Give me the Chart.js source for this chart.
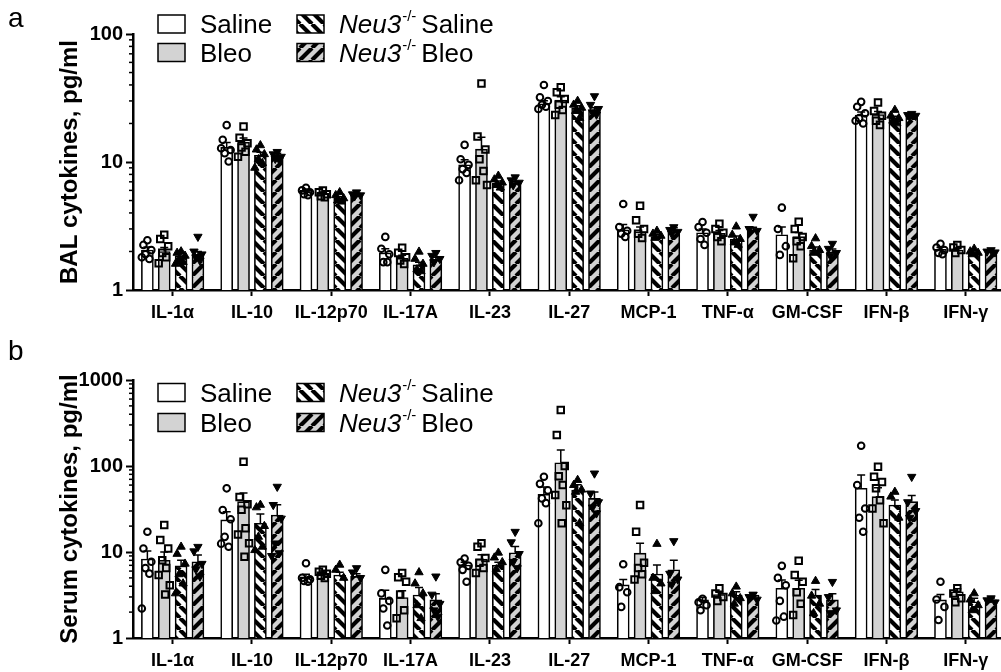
<!DOCTYPE html>
<html>
<head>
<meta charset="utf-8">
<script src="https://cdn.jsdelivr.net/npm/chart.js@4.4.1/dist/chart.umd.min.js"></script>
<style>
  html, body { margin: 0; padding: 0; background: #fff; overflow: hidden; width: 1001px; height: 672px; }
  #wrap { position: relative; width: 1001px; height: 672px; overflow: hidden; }
  canvas { position: absolute; left: 0; }
  #chartA { top: 0; }
  #chartB { top: 330px; }
</style>
</head>
<body>
<div id="wrap">
  <canvas id="chartA" width="1012" height="330"></canvas>
  <canvas id="chartB" width="1012" height="342"></canvas>
</div>
<script>
const FONT = '"Liberation Sans", Arial, sans-serif';

const cytokines = ["IL-1\u03b1", "IL-10", "IL-12p70", "IL-17A", "IL-23", "IL-27", "MCP-1", "TNF-\u03b1", "GM-CSF", "IFN-\u03b2", "IFN-\u03b3"];
const balTicks = [1, 10, 100];
const serumTicks = [1, 10, 100, 1000];

// ---- a: BAL (means, SEM, individual animals) ----
const balSalineMean = [2.05, 13.0, 6.0, 1.95, 9.5, 28.5, 2.95, 2.8, 2.7, 23.3, 2.08];
const balSalineSem  = [0.12, 1.2, 0.15, 0.15, 0.9, 1.6, 0.3, 0.2, 0.4, 1.3, 0.08];
const balSalinePts  = [[2.45, 2.25, 2.05, 1.9, 1.75, 1.8], [19.4, 14.9, 12.4, 11.7, 10.1, 12.8], [6.3, 6.0, 5.8, 5.6, 5.5],
  [2.6, 2.1, 1.9, 1.65, 1.65], [13.6, 10.5, 9.5, 8.8, 8.2, 7.2], [40, 32, 30, 28, 27, 26], [4.7, 3.1, 2.9, 2.75, 2.6],
  [3.4, 3.1, 2.8, 2.5, 2.25], [4.4, 3.0, 2.2, 1.88], [29.5, 27, 24, 22, 20, 21], [2.3, 2.15, 2.05, 1.95, 1.9]];

const balBleoMean = [2.0, 14.3, 5.7, 1.77, 12.6, 30.5, 2.85, 2.77, 2.61, 23.5, 2.05];
const balBleoSem  = [0.15, 1.1, 0.12, 0.1, 3.0, 1.8, 0.25, 0.15, 0.2, 1.3, 0.07];
const balBleoPts  = [[2.7, 2.5, 2.2, 1.95, 1.8, 1.62], [18.9, 15.5, 14, 13, 12, 11], [6.0, 5.8, 5.6, 5.4, 5.3],
  [2.14, 1.95, 1.8, 1.7, 1.6], [41, 15.8, 12.5, 10.5, 8.5, 7.2, 6.6], [38.3, 35, 31, 28, 25.5, 23.3], [4.55, 3.5, 3.0, 2.75, 2.55],
  [3.3, 3.0, 2.8, 2.6, 2.4], [3.42, 3.0, 2.6, 2.4, 2.2, 1.77], [29.1, 25, 23, 21, 19.5], [2.25, 2.15, 2.05, 1.95]];

const balKoSalineMean = [1.85, 11.3, 5.2, 1.57, 6.8, 26.3, 2.61, 2.49, 2.05, 22, 1.93];
const balKoSalineSem  = [0.08, 0.6, 0.15, 0.08, 0.3, 1.2, 0.1, 0.15, 0.12, 0.8, 0.05];
const balKoSalinePts  = [[2.0, 1.95, 1.85, 1.75, 1.65, 1.6], [13.5, 12.5, 11.5, 10.5, 9.8, 9.0], [5.8, 5.5, 5.2, 5.0, 4.9],
  [1.99, 1.75, 1.6, 1.45, 1.4], [7.8, 7.3, 6.9, 6.6, 6.3], [30, 28, 26.5, 25, 22], [2.9, 2.75, 2.65, 2.55],
  [3.13, 2.7, 2.5, 2.35, 2.25], [2.53, 2.2, 2.05, 1.95], [25.5, 23, 22, 21, 20], [2.1, 2.0, 1.95, 1.9]];

const balKoBleoMean = [1.9, 11.3, 5.6, 1.74, 6.8, 25.3, 2.94, 2.94, 1.99, 23.3, 1.99];
const balKoBleoSem  = [0.1, 0.4, 0.1, 0.06, 0.25, 1.2, 0.12, 0.15, 0.1, 0.4, 0.04];
const balKoBleoPts  = [[2.61, 2.0, 1.9, 1.8, 1.7], [12.0, 11.5, 11.0, 10.6, 10.4], [5.8, 5.6, 5.5, 5.4],
  [1.95, 1.85, 1.75, 1.65], [7.6, 7.2, 6.9, 6.6], [32.7, 28, 26, 24.5, 23.5], [3.1, 2.95, 2.85, 2.75],
  [3.74, 3.0, 2.9], [2.3, 2.1, 1.95, 1.85], [23.8, 23.3, 23.0, 22.5], [2.05, 2.0, 1.97]];

// ---- b: Serum ----
const serSalineMean = [8.3, 23.6, 5.16, 2.89, 7.06, 46.9, 4.14, 2.77, 3.78, 55, 2.77];
const serSalineSem  = [2.0, 5.8, 0.35, 0.7, 0.55, 10, 0.66, 0.18, 0.95, 23.6, 0.43];
const serSalinePts  = [[17.2, 11.0, 7.7, 6.5, 5.6, 2.2], [55, 30.8, 24, 15, 11.5, 12.5], [7.4, 5.0, 4.8, 4.6, 4.5],
  [6.2, 3.3, 2.7, 2.2, 1.4], [8.4, 7.6, 6.9, 6.2, 4.5], [75, 62, 52, 42, 37, 21.6], [7.2, 3.9, 3.4, 2.3],
  [2.85, 2.6, 2.4, 2.1], [6.9, 5.0, 4.1, 2.7, 1.77, 1.6], [172, 60, 32, 25, 17.2], [4.5, 2.8, 2.3, 1.62]];

const serBleoMean = [8.0, 38.5, 5.7, 2.95, 8.3, 109, 9.7, 3.2, 3.78, 44, 3.45];
const serBleoSem  = [2.0, 10, 0.3, 0.6, 1.0, 44, 2.9, 0.2, 0.9, 12, 0.3];
const serBleoPts  = [[20.6, 13.8, 11, 8, 6.5, 5.4, 4.1, 3.2], [112, 43.6, 36, 31, 18.9, 16, 12.6, 8.8], [6.2, 5.9, 5.6, 5.3, 5.0],
  [5.7, 5.1, 4.5, 3.2, 2.1, 1.7], [12.6, 11.5, 8.5, 7.5, 6.5, 5.7], [448, 229, 100, 76, 60, 46, 35, 21.6], [35.2, 17.2, 7.5, 6.5, 5.5, 4.8],
  [3.8, 3.3, 3.0, 2.7], [7.9, 5.4, 4.5, 3.4, 2.5, 1.85], [98, 75, 65, 55, 40, 32, 21.6], [3.78, 3.3, 2.9, 2.6]];

const serKoSalineMean = [6.9, 21.6, 5.4, 3.16, 7.0, 52.6, 5.55, 3.16, 3.16, 35.2, 2.64];
const serKoSalineSem  = [1.1, 6, 0.4, 0.7, 0.6, 8, 1.5, 0.3, 0.5, 5, 0.25];
const serKoSalinePts  = [[11.5, 9.5, 7.3, 5.5, 4.3, 3.3], [35.3, 33, 20, 15, 11.5, 10.5], [7.1, 6.2, 5.0],
  [5.8, 4.3, 3.3, 2.4, 1.7], [9.8, 8.6, 7.6, 6.3], [68.7, 60, 53, 50, 21.6], [12.4, 5.0, 4.3, 3.5],
  [3.95, 3.3, 2.9, 2.5], [4.6, 3.1, 2.5, 1.94], [50, 44, 25], [3.3, 2.8, 2.4, 2.1]];

const serKoBleoMean = [7.7, 26.9, 5.2, 2.77, 9.8, 42, 6.2, 3.16, 2.77, 38.5, 2.77];
const serKoBleoSem  = [1.5, 8.5, 0.4, 0.5, 1.8, 8, 1.8, 0.2, 0.5, 7, 0.15];
const serKoBleoPts  = [[11.5, 10.2, 7.3, 6.3, 5.2], [57.5, 35.3, 24.5, 12.6, 9.7, 9.0], [6.5, 5.8, 5.0],
  [5.2, 3.2, 2.5, 2.1, 1.77], [17.2, 13, 9.5, 7.7, 6.5], [82, 48, 38, 33, 28.2], [13.4, 5.6, 4.8, 4.2],
  [3.2, 3.0, 2.8], [4.5, 3.0, 2.1, 1.95], [75, 38, 30, 25], [2.9, 2.75, 2.6]];

// layout bits (group slot width as a fraction of one category)
const SLOT = 0.2125;
const JITTER = [0, -0.05, 0.05, -0.025, 0.025, -0.07, 0.07, 0.012];
const GRAY = "#d3d3d3";

function stripes(ctx, bg, dir) {
  const s = 12, c = document.createElement("canvas");
  c.width = s; c.height = s;
  const g = c.getContext("2d");
  g.fillStyle = bg; g.fillRect(0, 0, s, s);
  g.strokeStyle = "#000"; g.lineWidth = 4.2;
  g.beginPath();
  for (let k = -1; k <= 1; k++) {
    if (dir === "down") { g.moveTo(k * s, 0); g.lineTo(k * s + s, s); }
    else { g.moveTo(k * s, s); g.lineTo(k * s + s, 0); }
  }
  g.stroke();
  return ctx.createPattern(c, "repeat");
}

const errorBars = {
  id: "errorBars",
  afterDatasetDraw(chart, args) {
    if (args.meta.type !== "bar") return;
    const ds = chart.data.datasets[args.index];
    const y = chart.scales.y, c = chart.ctx;
    c.save();
    c.strokeStyle = "#000"; c.lineWidth = 1.5;
    args.meta.data.forEach((el, i) => {
      const top = y.getPixelForValue(ds.data[i].y + ds.sem[i]);
      c.beginPath();
      c.moveTo(el.x, el.y); c.lineTo(el.x, top);
      c.moveTo(el.x - 4, top); c.lineTo(el.x + 4, top);
      c.stroke();
    });
    c.restore();
  }
};

function buildChart(id, p) {
  const ctx = document.getElementById(id).getContext("2d");
  const fills = ["#ffffff", GRAY, stripes(ctx, "#ffffff", "down"), stripes(ctx, GRAY, "up")];
  const markers = [
    { pointStyle: "circle", radius: 3.3, rotation: 0, backgroundColor: "rgba(255,255,255,0)", borderWidth: 2 },
    { pointStyle: "rect", radius: 4.6, rotation: 0, backgroundColor: "rgba(255,255,255,0)", borderWidth: 2 },
    { pointStyle: "triangle", radius: 4.8, rotation: 0, backgroundColor: "#000", borderWidth: 1 },
    { pointStyle: "triangle", radius: 4.8, rotation: 180, backgroundColor: "#000", borderWidth: 1 }
  ];
  const names = ["Saline", "Bleo", "Neu3-/- Saline", "Neu3-/- Bleo"];
  const datasets = [];
  for (let g = 0; g < 4; g++) {
    const off = (g - 1.5) * SLOT;
    datasets.push({
      type: "bar", label: names[g], sem: p.sems[g],
      data: p.means[g].map((m, i) => ({ x: i + off, y: m })),
      backgroundColor: fills[g], borderColor: "#000", borderWidth: 1.6,
      grouped: false, barThickness: 12, order: 2
    });
  }
  for (let g = 0; g < 4; g++) {
    const off = (g - 1.5) * SLOT;
    const pts = [];
    p.points[g].forEach((arr, i) => arr.forEach((v, k) => pts.push({ x: i + off + JITTER[k % JITTER.length], y: v })));
    datasets.push(Object.assign({
      type: "scatter", label: names[g] + " pts", data: pts,
      borderColor: "#000", order: 1
    }, markers[g]));
  }

  const majors = p.ticks;
  const extras = {
    id: "extras",
    afterDraw(chart) {
      const c = chart.ctx, y = chart.scales.y;
      c.save();
      // minor ticks on the log axis
      c.strokeStyle = "#000"; c.lineWidth = 1.5;
      for (let d = 1; d < majors[majors.length - 1]; d *= 10) {
        for (let m = 2; m <= 9; m++) {
          const py = y.getPixelForValue(m * d);
          c.beginPath(); c.moveTo(y.right - 4, py); c.lineTo(y.right, py); c.stroke();
        }
      }
      // panel letter
      c.fillStyle = "#000";
      c.font = "28px " + FONT;
      c.textBaseline = "alphabetic";
      c.fillText(p.letter, 8, p.letterY);
      // legend
      const rows = p.legendRows;
      const items = [[158, rows[0], 0, false, "Saline"], [158, rows[1], 1, false, "Bleo"],
                     [297, rows[0], 2, true, "Saline"], [297, rows[1], 3, true, "Bleo"]];
      items.forEach(([x, ry, g, ko, txt]) => {
        c.fillStyle = fills[g]; c.fillRect(x, ry - 9, 27, 18);
        c.strokeStyle = "#000"; c.lineWidth = 1.5; c.strokeRect(x, ry - 9, 27, 18);
        c.fillStyle = "#000";
        let tx = x + 42;
        const base = ry + 9;
        if (ko) {
          c.font = "italic 26px " + FONT;
          c.fillText("Neu3", tx, base);
          tx += c.measureText("Neu3").width + 1;
          c.font = "15px " + FONT;
          c.fillText("-/-", tx, base - 12);
          tx += c.measureText("-/-").width + 5;
        }
        c.font = "26px " + FONT;
        c.fillText(txt, tx, base);
      });
      c.restore();
    }
  };

  return new Chart(ctx, {
    type: "bar",
    data: { datasets: datasets },
    options: {
      responsive: false, animation: false, devicePixelRatio: 1, events: [],
      layout: { padding: { left: 0, right: 1, top: p.top, bottom: 0 } },
      plugins: { legend: { display: false }, tooltip: { enabled: false } },
      scales: {
        x: {
          type: "linear", offset: false, min: -0.5, max: 10.5,
          afterBuildTicks: s => { s.ticks = cytokines.map((_, i) => ({ value: i })); },
          afterFit: s => { s.height = p.xh; },
          grid: { drawOnChartArea: false, offset: false, tickLength: 6, tickWidth: 2, tickColor: "#000" },
          border: { display: true, color: "#000", width: 2.5 },
          ticks: { autoSkip: false, maxRotation: 0, color: "#000", padding: 6, callback: v => cytokines[v],
                   font: { family: FONT, size: 18, weight: "bold" } }
        },
        y: {
          type: "logarithmic", min: 1, max: majors[majors.length - 1],
          afterBuildTicks: s => { s.ticks = majors.map(v => ({ value: v })); },
          afterFit: s => { s.width = 133; },
          grid: { drawOnChartArea: false, tickLength: 7, tickWidth: 2, tickColor: "#000" },
          border: { display: true, color: "#000", width: 2.5 },
          ticks: { autoSkip: false, color: "#000", padding: 3, callback: v => String(v),
                   font: { family: FONT, size: 20, weight: "bold" } },
          title: { display: true, text: p.title, color: "#000", padding: { top: 56, bottom: 0 },
                   font: { family: FONT, size: 24, weight: "bold" } }
        }
      }
    },
    plugins: [errorBars, extras]
  });
}

buildChart("chartA", {
  means: [balSalineMean, balBleoMean, balKoSalineMean, balKoBleoMean],
  sems: [balSalineSem, balBleoSem, balKoSalineSem, balKoBleoSem],
  points: [balSalinePts, balBleoPts, balKoSalinePts, balKoBleoPts],
  ticks: balTicks, title: "BAL cytokines, pg/ml",
  top: 34, xh: 40, letter: "a", letterY: 27, legendRows: [24, 52.5]
});

buildChart("chartB", {
  means: [serSalineMean, serBleoMean, serKoSalineMean, serKoBleoMean],
  sems: [serSalineSem, serBleoSem, serKoSalineSem, serKoBleoSem],
  points: [serSalinePts, serBleoPts, serKoSalinePts, serKoBleoPts],
  ticks: serumTicks, title: "Serum cytokines, pg/ml",
  top: 50, xh: 34, letter: "b", letterY: 30, legendRows: [62.5, 92.5]
});
</script>
</body>
</html>
